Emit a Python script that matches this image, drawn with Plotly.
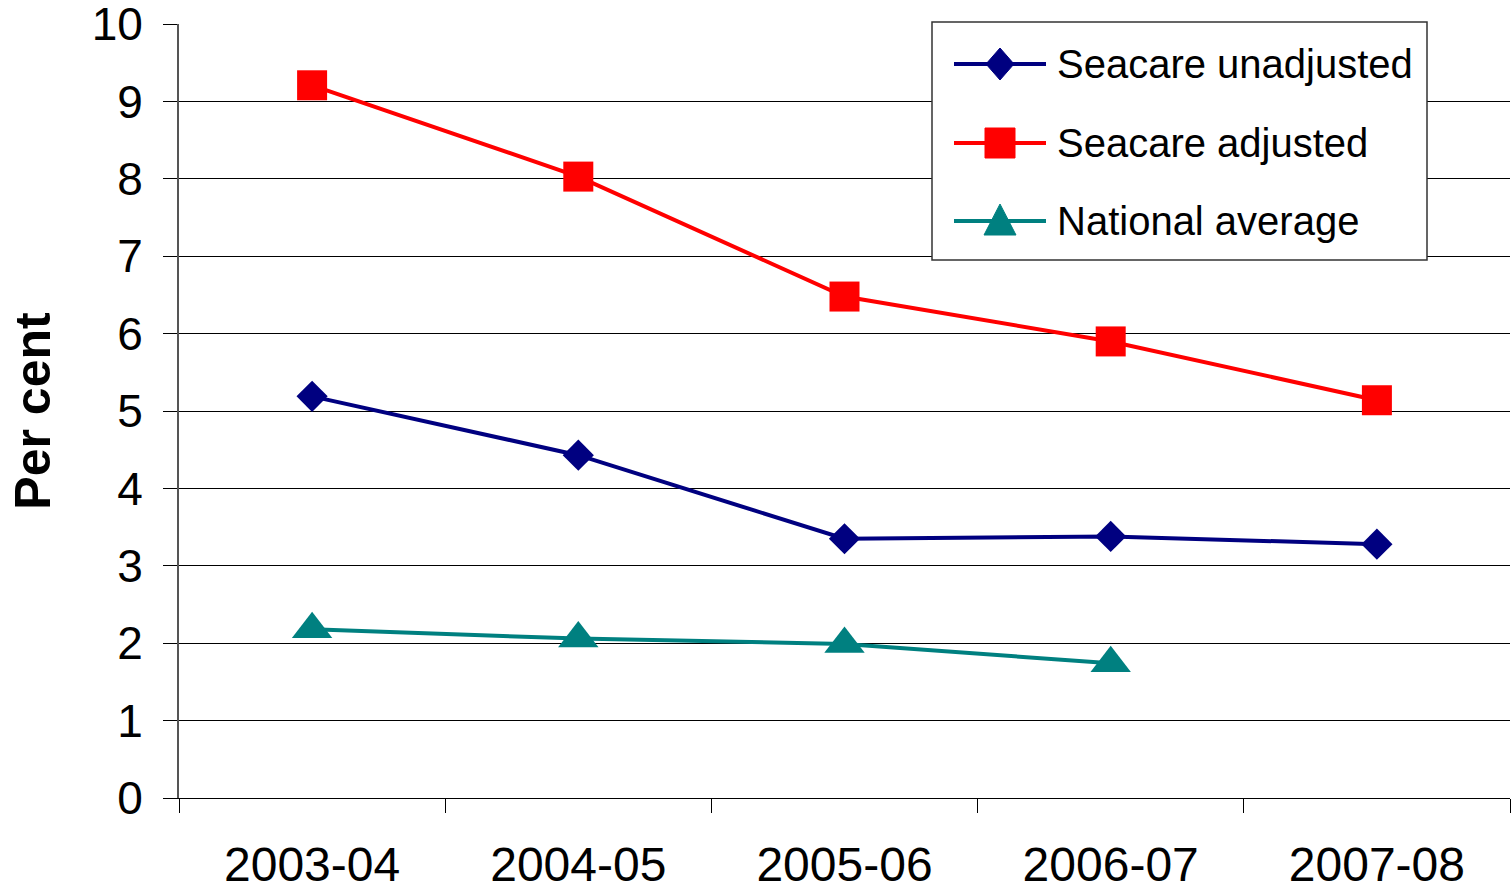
import plotly.graph_objects as go

years = ["2003-04", "2004-05", "2005-06", "2006-07", "2007-08"]
seacare_unadjusted = [5.19, 4.43, 3.35, 3.38, 3.28]
seacare_adjusted = [9.21, 8.03, 6.48, 5.90, 5.14]
national_average = [2.18, 2.06, 1.99, 1.74, None]

series_names = ["Seacare unadjusted", "Seacare adjusted", "National average"]
series_colors = ["#000080", "#FF0000", "#008080"]
series_symbols = ["diamond", "square", "triangle-up"]

FONT = "Liberation Sans, Arial, sans-serif"

W, H = 1512, 890
ML, MR, MT, MB = 179, 2, 24, 92
PW, PH = W - ML - MR, H - MT - MB


def X(px):
    return (px - ML) / PW


def Y(py):
    return (H - MB - py) / PH


fig = go.Figure()
for name, vals, col, sym, size in zip(
        series_names, [seacare_unadjusted, seacare_adjusted, national_average],
        series_colors, series_symbols, [24, 30, 35]):
    fig.add_trace(go.Scatter(
        x=years, y=vals, name=name, mode="lines+markers",
        line=dict(color=col, width=4), showlegend=False,
        marker=dict(symbol=sym, size=size, color=col)))

# custom legend (box, sample lines, symbols, labels)
shapes = [dict(type="rect", xref="paper", yref="paper",
               x0=X(932), x1=X(1427), y0=Y(260), y1=Y(22),
               line=dict(color="#333333", width=1.5), fillcolor="white", layer="above")]
annotations = []
rows = [64, 143, 221]
cx = 1000
for i, (name, col, sym) in enumerate(zip(series_names, series_colors, series_symbols)):
    cy = rows[i]
    shapes.append(dict(type="line", xref="paper", yref="paper",
                       x0=X(954), x1=X(1046), y0=Y(cy), y1=Y(cy),
                       line=dict(color=col, width=4), layer="above"))
    if sym == "diamond":
        pts = [(cx, cy - 16), (cx + 14, cy), (cx, cy + 16), (cx - 14, cy)]
    elif sym == "square":
        pts = [(cx - 15, cy - 15), (cx + 15, cy - 15), (cx + 15, cy + 15), (cx - 15, cy + 15)]
    else:
        pts = [(cx, cy - 17), (cx + 16, cy + 14), (cx - 16, cy + 14)]
    path = "M " + " L ".join(f"{X(a):.5f},{Y(b):.5f}" for a, b in pts) + " Z"
    shapes.append(dict(type="path", xref="paper", yref="paper", path=path,
                       fillcolor=col, line=dict(color=col, width=1), layer="above"))
    annotations.append(dict(xref="paper", yref="paper", x=X(1055), y=Y(cy),
                            text=name, showarrow=False, xanchor="left", yanchor="middle",
                            font=dict(size=40, family=FONT, color="black")))

fig.update_layout(
    width=W, height=H,
    margin=dict(l=ML, r=MR, t=MT, b=MB, autoexpand=False),
    paper_bgcolor="white", plot_bgcolor="white",
    font=dict(family=FONT, color="black"),
    showlegend=False,
    shapes=shapes, annotations=annotations,
    xaxis=dict(
        type="category", range=[-0.5, 4.5], tickson="boundaries",
        ticks="outside", ticklen=14, tickcolor="black", tickwidth=1,
        showgrid=False, showline=True, linecolor="black", linewidth=1,
        tickfont=dict(size=48, family=FONT), ticklabelstandoff=24,
        zeroline=False, automargin=False,
    ),
    yaxis=dict(
        range=[0, 10.002], dtick=1, tick0=0,
        ticks="outside", ticklen=14, tickcolor="black", tickwidth=1,
        showgrid=True, gridcolor="black", gridwidth=1,
        showline=True, linecolor="#555555", linewidth=2,
        tickfont=dict(size=46, family=FONT), ticklabelstandoff=11,
        ticklabeloverflow="allow",
        zeroline=False, automargin=False,
        title=dict(text="<b>Per cent</b>", font=dict(size=50, family=FONT), standoff=25),
    ),
)

fig.write_html(
    "out.html",
    config={"displayModeBar": False},
    post_script="document.body.style.margin='0';document.body.style.overflow='hidden';",
)
